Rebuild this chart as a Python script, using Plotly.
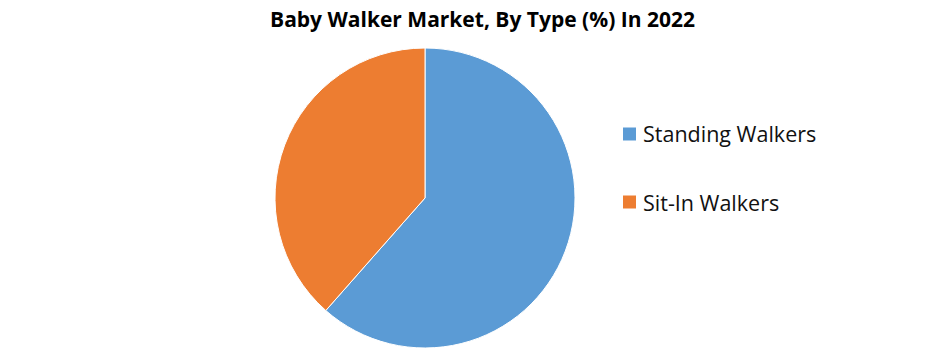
import plotly.graph_objects as go

title = "Baby Walker Market, By Type (%) In 2022"
labels = ["Standing Walkers", "Sit-In Walkers"]
values = [61.5, 38.5]
colors = ["#5B9BD5", "#ED7D31"]

W, H = 941, 354

fig = go.Figure(go.Pie(
    labels=labels,
    values=values,
    marker=dict(colors=colors, line=dict(color="white", width=1)),
    sort=False,
    direction="clockwise",
    rotation=0,
    textinfo="none",
    hoverinfo="label+percent",
    showlegend=False,
    domain=dict(x=[275 / W, 575 / W], y=[(H - 348) / H, (H - 48) / H]),
))

# legend drawn as shapes + text
leg_x = 623
leg_y = [134, 202]
for lab, col, yc in zip(labels, colors, leg_y):
    fig.add_shape(type="rect", xref="paper", yref="paper",
                  x0=leg_x / W, x1=(leg_x + 13) / W,
                  y0=(H - yc - 6.5) / H, y1=(H - yc + 6.5) / H,
                  fillcolor=col, line=dict(width=0))
    fig.add_annotation(xref="paper", yref="paper", x=(leg_x + 18) / W, y=(H - yc) / H,
                       text=lab, showarrow=False, xanchor="left", yanchor="middle",
                       font=dict(family="Open Sans", size=21.5, color="#111"))

fig.update_layout(
    width=W, height=H,
    margin=dict(l=0, r=0, t=0, b=0),
    paper_bgcolor="white",
    title=dict(text="<b>" + title + "</b>", x=482.5 / W, xanchor="center", y=1 - 20 / H, yanchor="middle",
               font=dict(family="Open Sans", size=21, color="#000")),
)

fig.write_html("out.html")
